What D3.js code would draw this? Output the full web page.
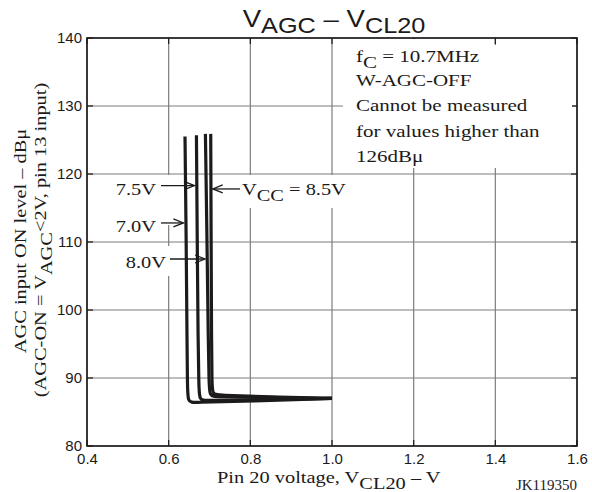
<!DOCTYPE html>
<html>
<head>
<meta charset="utf-8">
<script src="https://cdn.jsdelivr.net/npm/d3@7"></script>
<style>
  html, body { margin: 0; padding: 0; background: #fff; }
  svg { display: block; }
</style>
</head>
<body>
<svg id="chart" width="592" height="492"></svg>
<script>
// ---------------- data ----------------
const xTicks = [0.4, 0.6, 0.8, 1.0, 1.2, 1.4, 1.6];
const yTicks = [80, 90, 100, 110, 120, 130, 140];
const seriesNames = ["7.0V", "7.5V", "8.0V", "8.5V"];

// Pin 20 voltage (V) and AGC input ON level (dBμ) for each VCC curve
const v70x = [0.640, 0.643, 0.645, 0.646, 0.647, 0.660, 0.800, 1.000];
const v70y = [125.5, 110.0, 95.0, 89.0, 86.4, 86.4, 86.6, 87.0];
const v75x = [0.668, 0.670, 0.672, 0.674, 0.675, 0.690, 0.800, 1.000];
const v75y = [125.7, 110.0, 95.0, 89.0, 86.7, 86.7, 86.8, 87.0];
const v80x = [0.690, 0.694, 0.697, 0.699, 0.700, 0.715, 0.850, 1.000];
const v80y = [125.9, 110.0, 95.0, 89.5, 87.3, 87.3, 87.1, 87.0];
const v85x = [0.703, 0.704, 0.705, 0.706, 0.707, 0.720, 0.850, 1.000];
const v85y = [125.9, 110.0, 95.0, 89.5, 87.6, 87.5, 87.2, 87.0];

// arrow callouts: which curve, voltage of curve at arrow, level of arrow
const calloutSeries = ["7.5V", "7.0V", "8.0V", "8.5V"];
const calloutX = [0.668, 0.641, 0.694, 0.703];
const calloutY = [118.3, 112.8, 107.5, 117.8];

const noteLines = ["W-AGC-OFF", "Cannot be measured", "for values higher than", "126dBμ"];

// ---------------- layout ----------------
const svg = d3.select("#chart");
const L = 87, R = 577, T = 38, B = 446;
const x = d3.scaleLinear().domain([0.4, 1.6]).range([L, R]);
const y = d3.scaleLinear().domain([80, 140]).range([B, T]);
const INK = "#1c1a1a";
const GRID = "#7d7d7d";
const SERIF = "'Liberation Serif', 'Times New Roman', serif";
const SANS = "'Liberation Sans', Arial, Helvetica, sans-serif";

// text helper: parts = [[text, isSub], ...]
function rtext(parent, px, py, parts, o) {
  o = Object.assign({size: 17, subSize: null, subDy: 5.5, sx: 1.2, rot: 0, anchor: "start", family: SERIF}, o || {});
  const g = parent.append("g")
    .attr("transform", `translate(${px},${py}) rotate(${o.rot}) scale(${o.sx},1)`);
  const t = g.append("text")
    .attr("font-family", o.family)
    .attr("font-size", o.size)
    .attr("fill", INK)
    .attr("text-anchor", o.anchor);
  let down = false;
  parts.forEach(([s, sub]) => {
    const sp = t.append("tspan").text(s);
    if (sub && !down) { sp.attr("dy", o.subDy); down = true; }
    else if (!sub && down) { sp.attr("dy", -o.subDy); down = false; }
    if (sub && o.subSize) sp.attr("font-size", o.subSize);
  });
  return g;
}

// ---------------- grid ----------------
const grid = svg.append("g");
grid.selectAll(".gx").data(xTicks).join("line")
  .attr("x1", d => x(d)).attr("x2", d => x(d))
  .attr("y1", T).attr("y2", B)
  .attr("stroke", GRID).attr("stroke-width", 1.2);
grid.selectAll(".gy").data(yTicks).join("line")
  .attr("x1", L).attr("x2", R)
  .attr("y1", d => y(d)).attr("y2", d => y(d))
  .attr("stroke", GRID).attr("stroke-width", 1.2);

// inward tick marks on all four sides
const ticks = svg.append("g").attr("stroke", INK).attr("stroke-width", 1.2);
xTicks.forEach(d => {
  ticks.append("line").attr("x1", x(d)).attr("x2", x(d)).attr("y1", T).attr("y2", T + 6);
  ticks.append("line").attr("x1", x(d)).attr("x2", x(d)).attr("y1", B).attr("y2", B - 6);
});
yTicks.forEach(d => {
  ticks.append("line").attr("x1", L).attr("x2", L + 6).attr("y1", y(d)).attr("y2", y(d));
  ticks.append("line").attr("x1", R).attr("x2", R - 6).attr("y1", y(d)).attr("y2", y(d));
});

// white label backgrounds (break the grid under labels)
const bg = svg.append("g").attr("fill", "#fff");
bg.append("rect").attr("x", 343).attr("y", T + 7).attr("width", 229).attr("height", 168 - T - 7);
bg.append("rect").attr("x", 343).attr("y", T + 1).attr("width", 150).attr("height", 10);
bg.append("rect").attr("x", 240).attr("y", 175).attr("width", 108).attr("height", 33);
bg.append("rect").attr("x", 110).attr("y", 175).attr("width", 62).attr("height", 50);
bg.append("rect").attr("x", 120).attr("y", 246).attr("width", 52).attr("height", 30);

// ---------------- curves ----------------
const seriesX = [v70x, v75x, v80x, v85x];
const seriesY = [v70y, v75y, v80y, v85y];
const line = d3.line().x(d => x(d[0])).y(d => y(d[1])).curve(d3.curveBasis);
svg.append("g").selectAll("path")
  .data(seriesNames.map((n, i) => seriesX[i].map((v, j) => [v, seriesY[i][j]])))
  .join("path")
  .attr("d", line)
  .attr("fill", "none")
  .attr("stroke", INK)
  .attr("stroke-width", 3.2)
  .attr("stroke-linejoin", "round");

// ---------------- frame ----------------
svg.append("rect").attr("x", L).attr("y", T).attr("width", R - L).attr("height", B - T)
  .attr("fill", "none").attr("stroke", INK).attr("stroke-width", 1.6);

// ---------------- axes labels ----------------
const xAxis = d3.axisBottom(x).tickValues(xTicks).tickFormat(d3.format(".1f")).tickSize(0).tickPadding(7);
const gx = svg.append("g").attr("transform", `translate(0,${B})`).call(xAxis);
gx.select(".domain").remove();
gx.selectAll("text").attr("font-family", SANS).attr("font-size", 15).attr("fill", INK);

const yAxis = d3.axisLeft(y).tickValues(yTicks).tickFormat(d3.format("d")).tickSize(0).tickPadding(5);
const gy = svg.append("g").attr("transform", `translate(${L},0)`).call(yAxis);
gy.select(".domain").remove();
gy.selectAll("text").attr("font-family", SANS).attr("font-size", 15).attr("fill", INK);

// title
rtext(svg, 334, 27, [["V", false], ["AGC", true], [" – V", false], ["CL20", true]],
  {family: SANS, size: 24, subSize: 22, subDy: 6, sx: 1.15, anchor: "middle"});

// x-axis title
rtext(svg, 217, 483, [["Pin 20 voltage, V", false], ["CL20", true], [" – V", false]], {size: 17});
// code
rtext(svg, 577, 490, [["JK119350", false]], {size: 15, sx: 1.0, anchor: "end"});

// y-axis title (two lines)
rtext(svg, 26, 241, [["AGC input ON level – dBμ", false]], {rot: -90, anchor: "middle"});
rtext(svg, 46, 240, [["(AGC-ON = V", false], ["AGC", true], ["<2V, pin 13 input)", false]], {rot: -90, anchor: "middle"});

// note block
rtext(svg, 356, 62, [["f", false], ["C", true], [" = 10.7MHz", false]], {size: 17.5});
noteLines.forEach((s, i) => rtext(svg, 356, 86 + i * 25.3, [[s, false]], {size: 17.5}));

// ---------------- callouts ----------------
const arrows = svg.append("g").attr("stroke", INK).attr("stroke-width", 1.3).attr("fill", "none");
function arrow(x1, x2, yy) {
  const dir = Math.sign(x2 - x1);
  arrows.append("line").attr("x1", x1).attr("x2", x2).attr("y1", yy).attr("y2", yy);
  arrows.append("path").attr("d", `M${x2 - dir * 10},${yy - 4} L${x2},${yy} L${x2 - dir * 10},${yy + 4}`);
}
calloutSeries.forEach((name, i) => {
  const yy = y(calloutY[i]);
  const cx = x(calloutX[i]);
  if (name === "8.5V") {
    arrow(240, cx + 2, yy);
    rtext(svg, 242, 195, [["V", false], ["CC", true], [" = 8.5V", false]], {size: 17});
  } else if (name === "8.0V") {
    arrow(170, cx - 2, yy);
    rtext(svg, 166, yy + 9, [[name, false]], {size: 17, anchor: "end"});
  } else {
    arrow(161, cx - 2, yy);
    rtext(svg, 156, yy + 9.5, [[name, false]], {size: 17, anchor: "end"});
  }
});
</script>
</body>
</html>
